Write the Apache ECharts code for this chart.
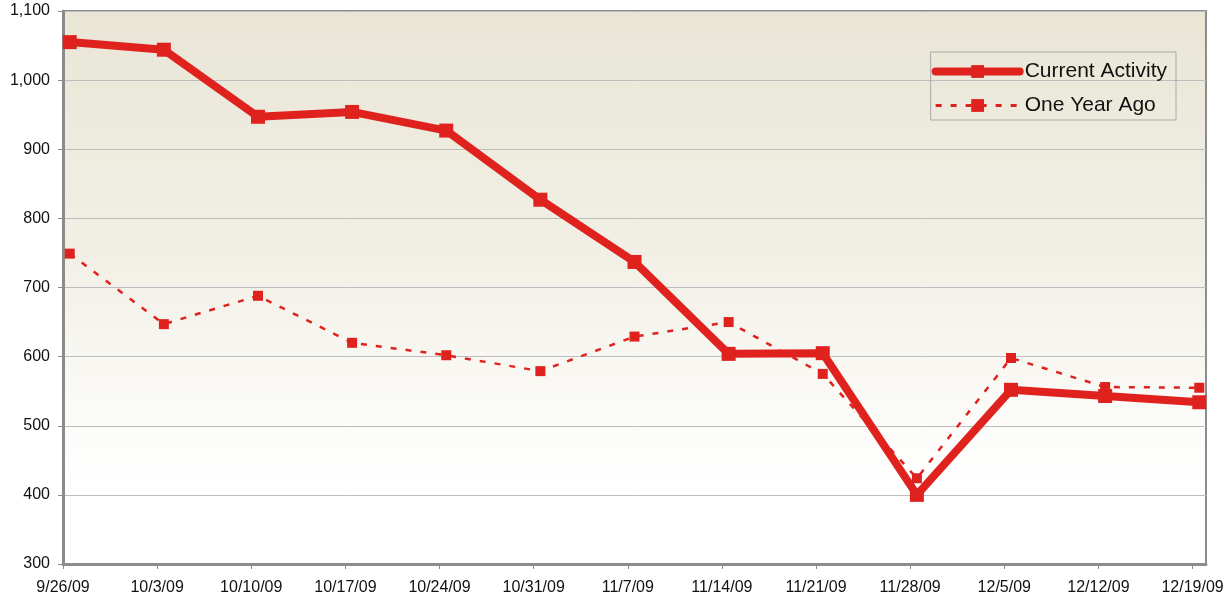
<!DOCTYPE html>
<html>
<head>
<meta charset="utf-8">
<script src="https://cdn.jsdelivr.net/npm/echarts@6/dist/echarts.min.js"></script>
<style>
html,body{margin:0;padding:0;background:#fff;}
#chart{width:1230px;height:599px;}
</style>
</head>
<body>
<div id="chart"></div>
<script>
// Week-ending dates (day offsets from 9/26/09) and tick labels
var tickLabels = ['9/26/09','10/3/09','10/10/09','10/17/09','10/24/09','10/31/09','11/7/09','11/14/09','11/21/09','11/28/09','12/5/09','12/12/09','12/19/09'];
var dayOffsets = [0,7,14,21,28,35,42,49,56,63,70,77,84];
var currentActivity = [1055,1044,947,954,927,827,737,604,605,400,552,543,534];
var oneYearAgo = [749,647,688,620,602,579,629,650,575,424,598,556,555];

function pairs(vals){
  return vals.map(function(v,i){ return [dayOffsets[i]+0.5, v]; });
}
var red = '#E0221E';
var font = 'Liberation Sans, Arial, sans-serif';
var chart = echarts.init(document.getElementById('chart'));
chart.setOption({
  animation:false,
  grid:{left:63, top:11, right:24, bottom:35, show:true,
    borderColor:'#8c8c8c', borderWidth:2,
    backgroundColor:{type:'linear',x:0,y:0,x2:0,y2:1,colorStops:[
      {offset:0,color:'#E9E6D6'},{offset:0.45,color:'#F2F0E6'},{offset:0.85,color:'#FFFFFF'},{offset:1,color:'#FFFFFF'}]}
  },
  legend:{
    right:54, top:52, orient:'vertical', itemGap:13,
    itemWidth:84, itemHeight:16,
    padding:[9,9,4,1],
    borderColor:'#a8a8a8', borderWidth:1, backgroundColor:'transparent',
    textStyle:{fontFamily:font, fontSize:21, color:'#111'},
    data:[
      {name:'Current Activity', lineStyle:{width:8, cap:'round'}},
      {name:'One Year Ago', lineStyle:{width:3}}
    ]
  },
  xAxis:{
    type:'value', min:0, max:85, interval:7,
    axisLine:{show:true, lineStyle:{color:'#8c8c8c', width:3}},
    axisTick:{show:true, length:5, lineStyle:{color:'#8c8c8c', width:1}},
    splitLine:{show:false},
    axisLabel:{showMaxLabel:false, margin:16, fontFamily:font, fontSize:16, color:'#111',
      formatter:function(v){ var i=dayOffsets.indexOf(v); return i>=0?tickLabels[i]:''; }}
  },
  yAxis:{
    type:'value', min:300, max:1100, interval:100,
    axisLine:{show:true, lineStyle:{color:'#8c8c8c', width:3}},
    axisTick:{show:true, length:5, lineStyle:{color:'#8c8c8c', width:1}},
    splitLine:{show:true, lineStyle:{color:'#bdbdbd', width:1}},
    axisLabel:{margin:13, fontFamily:font, fontSize:16, color:'#111',
      formatter:function(v){ return v.toLocaleString('en-US'); }}
  },
  series:[
    {name:'One Year Ago', type:'line', data:pairs(oneYearAgo), symbol:'rect', symbolSize:10,
      itemStyle:{color:red}, lineStyle:{color:red, width:2.5, type:[6,9]}, z:2},
    {name:'Current Activity', type:'line', data:pairs(currentActivity), symbol:'rect', symbolSize:14,
      itemStyle:{color:red}, lineStyle:{color:red, width:8}, z:3}
  ]
});
</script>
</body>
</html>
